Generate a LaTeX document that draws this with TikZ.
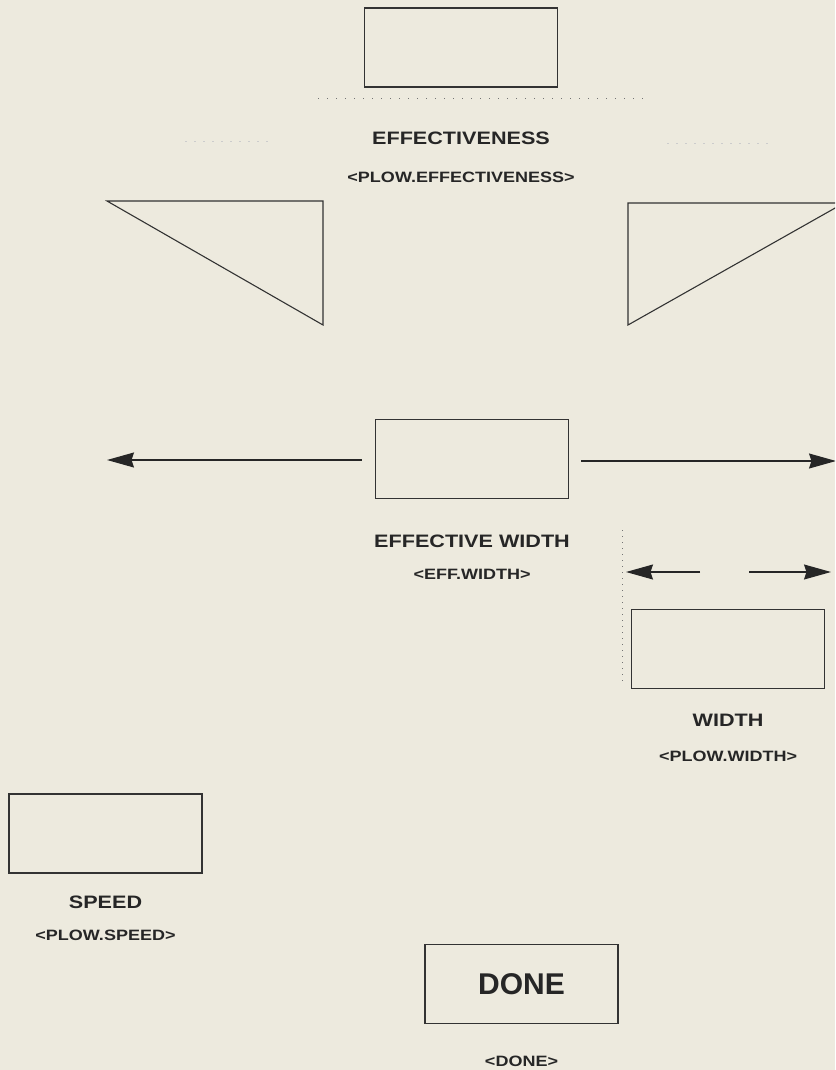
\documentclass[tikz,border=0pt]{standalone}
\usepackage{fontspec}
\newfontfamily\labfont[FakeStretch=1.2]{Liberation Sans}
\newfontfamily\donefont{Liberation Sans}
\usepackage{tikz}
\usetikzlibrary{arrows.meta,positioning}
\definecolor{paper}{HTML}{EDEADE}

\begin{document}
\begin{tikzpicture}[
    x=1pt, y=-1pt,
    box/.style={rectangle, draw=black!80, line width=1.3pt, minimum width=193pt, minimum height=79pt, inner sep=0pt},
    lab/.style={font=\labfont\bfseries\fontsize{18}{20}\selectfont, text=black!85, inner sep=0pt},
    tag/.style={font=\labfont\bfseries\fontsize{15}{17}\selectfont, text=black!85, inner sep=0pt},
    arrow/.style={-{Stealth[length=27pt,width=15pt,inset=2.5pt]}, line width=1.2pt, draw=black!85},
    shape line/.style={line width=1.1pt, draw=black!80, line join=miter},
    dots/.style={line width=1pt, draw=black!55, dash pattern=on 1pt off 8pt},
    faint dots/.style={line width=1pt, draw=black!20, dash pattern=on 2pt off 7pt},
]
    % --- page ---
    \fill[paper] (0,0) rectangle (835,1070);
    \useasboundingbox (0,0) rectangle (835,1070);
    \clip (0,0) rectangle (835,1070);

    % --- Top: effectiveness ---
    \node[box] (eff) at (461,47.5) {};
    \node[lab, below=44pt of eff] (efflab) {EFFECTIVENESS};
    \node[tag, below=27pt of efflab] (efftag) {<PLOW.EFFECTIVENESS>};
    \draw[dots] (318,99) -- (645,99);
    \draw[faint dots] (185,141) -- (273,141);
    \draw[faint dots] (667,143) -- (773,143);

    % --- Triangles ---
    \draw[shape line] (107,201) -- (323,201) -- (323,325) -- cycle;
    \draw[shape line] (628,203) -- (844,203) -- (628,325) -- cycle;

    % --- Middle: effective width ---
    \node[box] (effw) at (472,459) {};
    \node[lab, below=36pt of effw] (effwlab) {EFFECTIVE WIDTH};
    \node[tag, below=21pt of effwlab] (effwtag) {<EFF.WIDTH>};
    \coordinate (lefttip) at (107,460);
    \coordinate (righttip) at (836,461);
    \draw[arrow, shorten <=13pt] (effw.west |- lefttip) -- (lefttip);
    \draw[arrow, shorten <=12pt] (effw.east |- righttip) -- (righttip);

    % --- Plow width ---
    \node[box] (wd) at (728,649) {};
    \node[lab, below=25pt of wd] (wdlab) {WIDTH};
    \node[tag, below=24pt of wdlab] (wdtag) {<PLOW.WIDTH>};
    \draw[dots, dash pattern=on 1pt off 5pt] (622,530) -- (622,685);
    \coordinate (wleft) at (626,572);
    \coordinate (wright) at (831,572);
    \draw[arrow] (700,572) -- (wleft);
    \draw[arrow] (749,572) -- (wright);

    % --- Speed ---
    \node[box] (spd) at (105.5,833.5) {};
    \node[lab, below=22pt of spd] (spdlab) {SPEED};
    \node[tag, below=21pt of spdlab] (spdtag) {<PLOW.SPEED>};

    % --- Done ---
    \node[box, font=\donefont\bfseries\fontsize{30}{32}\selectfont, text=black!85] (done) at (521.5,984) {DONE};
    \node[tag, below=32pt of done] (donetag) {<DONE>};

\end{tikzpicture}
\end{document}
